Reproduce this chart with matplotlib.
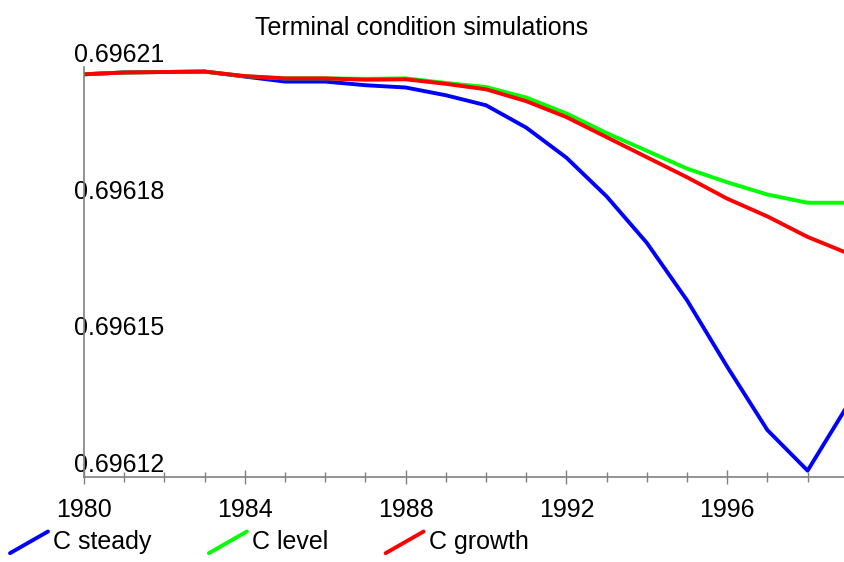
import matplotlib
matplotlib.use("Agg")
import matplotlib.pyplot as plt
from matplotlib.lines import Line2D
from matplotlib.legend_handler import HandlerBase
from matplotlib.ticker import MultipleLocator

plt.rcParams['font.family'] = ['Liberation Sans', 'DejaVu Sans']

years = list(range(1980, 2000))
# values, in units of 1e-5 above 0.69612
c_steady = [8.84, 8.88, 8.89, 8.90, 8.79, 8.68, 8.68, 8.60, 8.55, 8.38,
            8.16, 7.67, 7.01, 6.16, 5.14, 3.88, 2.42, 1.03, 0.14, 1.58]
c_level = [8.84, 8.88, 8.89, 8.90, 8.80, 8.75, 8.75, 8.74, 8.75, 8.65,
           8.56, 8.33, 7.98, 7.55, 7.16, 6.77, 6.47, 6.20, 6.02, 6.02]
c_growth = [8.84, 8.88, 8.89, 8.90, 8.80, 8.75, 8.75, 8.72, 8.73, 8.63,
            8.51, 8.25, 7.90, 7.46, 7.02, 6.58, 6.11, 5.72, 5.27, 4.91]
base = 0.69612
y_ticks = [0.69612, 0.69615, 0.69618, 0.69621]
x_ticks = [1980, 1984, 1988, 1992, 1996]

steady = [base + v * 1e-5 for v in c_steady]
level = [base + v * 1e-5 for v in c_level]
growth = [base + v * 1e-5 for v in c_growth]


class DiagHandler(HandlerBase):
    # legend key drawn as a short rising diagonal stroke
    def create_artists(self, legend, orig_handle, xdescent, ydescent,
                       width, height, fontsize, trans):
        ln = Line2D([-xdescent, -xdescent + width],
                    [-ydescent - 3, -ydescent + height],
                    color=orig_handle.get_color(), lw=orig_handle.get_linewidth(),
                    solid_capstyle='round')
        ln.set_transform(trans)
        return [ln]


fig = plt.figure(figsize=(8.44, 5.62), dpi=100)
ax = fig.add_axes([84 / 844, 85 / 562, (844 - 84) / 844, (477 - 67) / 562])

l1, = ax.plot(years, steady, color='#0000ff', lw=2.8, label='C steady')
l2, = ax.plot(years, level, color='#00ff00', lw=2.8, label='C level')
l3, = ax.plot(years, growth, color='#ff0000', lw=2.8, label='C growth')

ax.set_xlim(1980, 1980 + (844 - 84) / 40.2)
ax.set_ylim(0.69612, 0.69621)

for s in ['top', 'right']:
    ax.spines[s].set_visible(False)
for s in ['left', 'bottom']:
    ax.spines[s].set_color('#808080')
    ax.spines[s].set_linewidth(1.2)

ax.set_xticks(x_ticks)
ax.set_xticklabels([str(x) for x in x_ticks])
ax.xaxis.set_minor_locator(MultipleLocator(1))
ax.tick_params(axis='x', which='major', direction='inout', length=10, width=1,
               color='#808080', labelsize=18, pad=10)
ax.tick_params(axis='x', which='minor', direction='inout', length=7, width=1,
               color='#808080')

ax.set_yticks(y_ticks)
ax.set_yticklabels(['%.5f' % v for v in y_ticks])
ax.tick_params(axis='y', length=0, labelsize=18, pad=7.2)
for lab in ax.get_yticklabels():
    lab.set_horizontalalignment('left')
    lab.set_verticalalignment('bottom')

fig.text(0.5, 1 - 28 / 562, 'Terminal condition simulations', ha='center', va='center',
         fontsize=18)

fig.legend(handles=[l1, l2, l3], loc='lower left', bbox_to_anchor=(10 / 844, 8 / 562),
           ncol=3, frameon=False, fontsize=18, borderpad=0, borderaxespad=0,
           handlelength=1.52, handleheight=0.7, handletextpad=0.2, columnspacing=2.3,
           handler_map={Line2D: DiagHandler()})

fig.savefig('out.png', dpi=100)
